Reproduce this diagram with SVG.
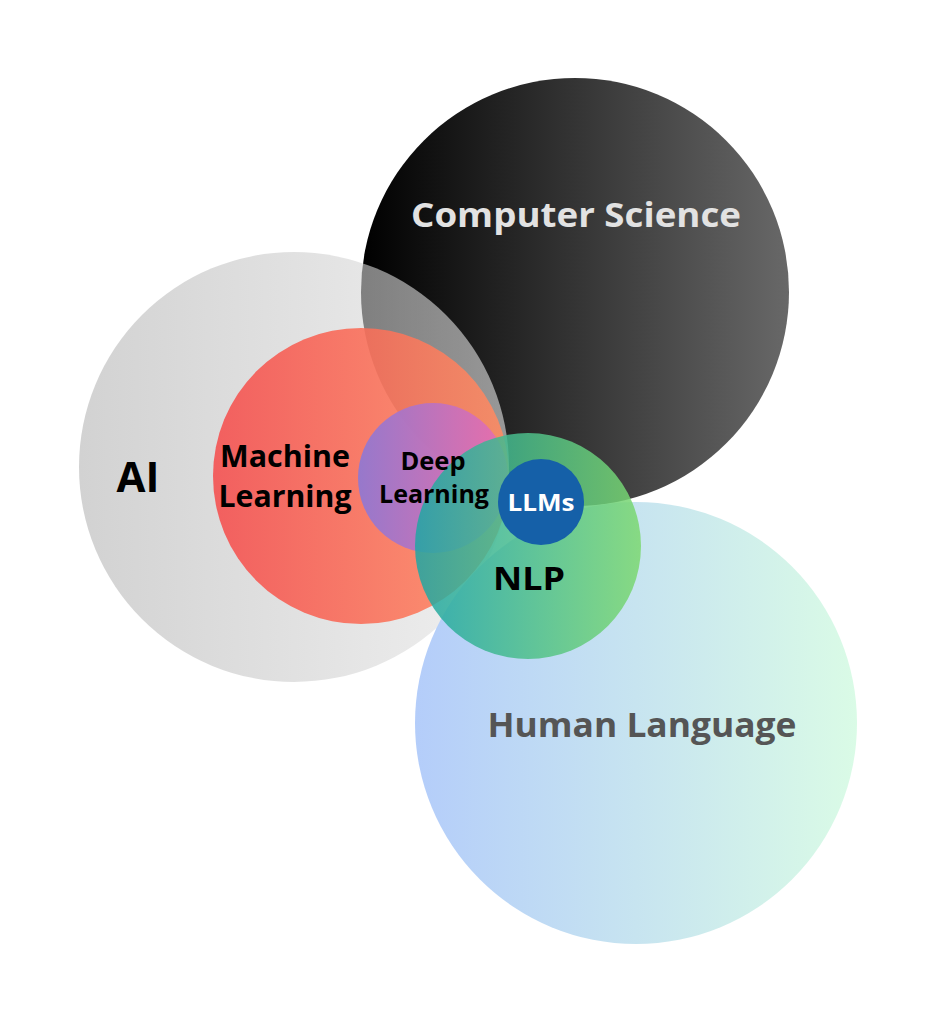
<svg xmlns="http://www.w3.org/2000/svg" width="937" height="1024" viewBox="0 0 937 1024">
<defs>
<linearGradient id="gCS" x1="0" y1="0" x2="1" y2="0"><stop offset="0" stop-color="#000"/><stop offset="1" stop-color="#686868"/></linearGradient>
<linearGradient id="gAI" x1="0" y1="0" x2="1" y2="0"><stop offset="0" stop-color="#b4b4b4"/><stop offset="1" stop-color="#e6e6e6"/></linearGradient>
<linearGradient id="gHL" x1="0" y1="0" x2="1" y2="0"><stop offset="0" stop-color="#b4cdfa"/><stop offset="1" stop-color="#dafbe6"/></linearGradient>
<linearGradient id="gML" x1="0" y1="0" x2="1" y2="0"><stop offset="0" stop-color="#f54e4e"/><stop offset="1" stop-color="#ff8c62"/></linearGradient>
<linearGradient id="gDL" x1="0" y1="0" x2="1" y2="0"><stop offset="0" stop-color="#8e78d4"/><stop offset="1" stop-color="#e86cb0"/></linearGradient>
<linearGradient id="gNLP" x1="0" y1="0" x2="1" y2="0"><stop offset="0" stop-color="#1ea6a4"/><stop offset="1" stop-color="#7cd870"/></linearGradient>
</defs>
<style>
.lbl{font-family:"Open Sans","Liberation Sans",sans-serif;font-weight:700;text-anchor:middle}
.dark{fill:#000}
</style>
<rect width="937" height="1024" fill="#fff"/>
<g id="computer-science">
<circle cx="575" cy="292" r="214" fill="url(#gCS)"/>
</g>
<g id="ai">
<circle cx="294" cy="467" r="215" fill="url(#gAI)" opacity="0.6"/>
</g>
<g id="human-language">
<circle cx="636" cy="723" r="221" fill="url(#gHL)"/>
</g>
<g id="machine-learning">
<circle cx="361" cy="476" r="148" fill="url(#gML)" opacity="0.88"/>
</g>
<g id="deep-learning">
<circle cx="433" cy="478" r="75" fill="url(#gDL)" opacity="0.92"/>
</g>
<g id="nlp">
<circle cx="528" cy="546" r="113" fill="url(#gNLP)" opacity="0.85"/>
</g>
<g id="llms">
<circle cx="541" cy="502" r="43" fill="#1560a8"/>
</g>
<g id="labels">
<text class="lbl" x="576" y="227" font-size="34" fill="#e2e2e2" textLength="330" lengthAdjust="spacingAndGlyphs">Computer Science</text>
<text class="lbl dark" x="138" y="492" font-size="42">AI</text>
<text class="lbl dark" x="285" y="467" font-size="31" textLength="130" lengthAdjust="spacingAndGlyphs">Machine</text>
<text class="lbl dark" x="285" y="507" font-size="31" textLength="133" lengthAdjust="spacingAndGlyphs">Learning</text>
<text class="lbl dark" x="433" y="470" font-size="25" textLength="65" lengthAdjust="spacingAndGlyphs">Deep</text>
<text class="lbl dark" x="434" y="503" font-size="25" textLength="110" lengthAdjust="spacingAndGlyphs">Learning</text>
<text class="lbl" x="541" y="511" font-size="23" fill="#fff" textLength="67" lengthAdjust="spacingAndGlyphs">LLMs</text>
<text class="lbl dark" x="529" y="590" font-size="33" textLength="72" lengthAdjust="spacingAndGlyphs">NLP</text>
<text class="lbl" x="642" y="737" font-size="34" fill="#555" textLength="309" lengthAdjust="spacingAndGlyphs">Human Language</text>
</g>
<g id="connectors"/>
</svg>
